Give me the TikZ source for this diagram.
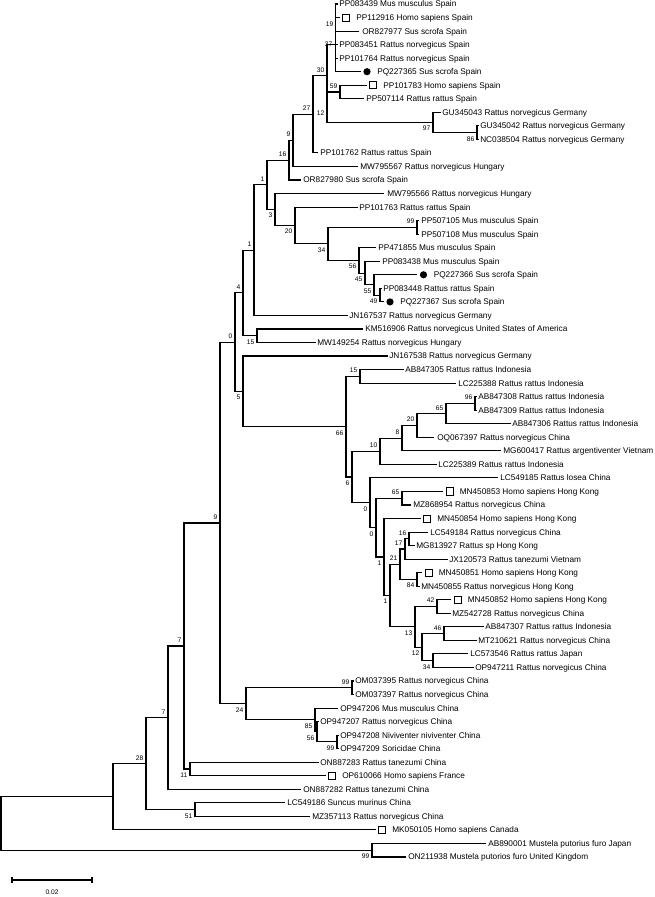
\documentclass[tikz,border=0pt]{standalone}
\usepackage{fontspec}
\setmainfont{Liberation Sans}
\usetikzlibrary{calc}
\newcommand\bsup[2]{\node[bs,anchor=east] (b#1) at ($(#1)+(-2.5,-6)$) {#2};}
\newcommand\bsdn[2]{\node[bs,anchor=east] (b#1) at ($(#1)+(-2.5,6)$) {#2};}
\begin{document}
\begin{tikzpicture}[x=0.75pt,y=-0.75pt,
  br/.style={line width=0.8pt,line cap=rect},
  lf/.style={font=\fontsize{6.2pt}{7pt}\selectfont,anchor=west,inner sep=0pt,text height=4.45pt,text depth=0pt},
  bs/.style={font=\fontsize{5pt}{6pt}\selectfont,inner sep=0pt,text height=3.6pt,text depth=0pt},
  hbox/.style={draw,line width=0.55pt,minimum size=5.4pt,inner sep=0pt},
  hdot/.style={circle,fill=black,minimum size=5.4pt,inner sep=0pt}]
\useasboundingbox (0,0) rectangle (655,897);
% ---------- internal nodes ----------
\coordinate (n19) at (335.5,17.55);
\coordinate (n37) at (335.5,44.6);
\coordinate (n59) at (340,92.0);
\coordinate (n86) at (477,132.65);
\coordinate (n97) at (433,122.5);
\coordinate (n12) at (327,107.25);
\coordinate (n30) at (327,75.9);
\coordinate (n27) at (313,114.4);
\coordinate (n9) at (293,140.45);
\coordinate (n16) at (289,160.2);
\coordinate (n49) at (380,295.1);
\coordinate (n55) at (374,284.95);
\coordinate (n45) at (365,273.1);
\coordinate (n56) at (359,260.4);
\coordinate (n99a) at (417,227.4);
\coordinate (n34) at (328,243.9);
\coordinate (n20) at (295,225.5);
\coordinate (n3) at (275,209.55);
\coordinate (n1a) at (267,184.9);
\coordinate (nX) at (254,250.15);
\coordinate (n15a) at (257,335.75);
\coordinate (nN) at (243,292.95);
\coordinate (n96) at (475,403.45);
\coordinate (n65a) at (446,413.6);
\coordinate (n20b) at (417,425.45);
\coordinate (n8) at (402,438.1);
\coordinate (n10) at (380,451.25);
\coordinate (n65b) at (402,498.2);
\coordinate (n16b) at (409,538.85);
\coordinate (n17) at (405,549.0);
\coordinate (n84) at (417,579.45);
\coordinate (n21) at (400,564.2);
\coordinate (n42) at (437,606.55);
\coordinate (n46) at (444,633.6);
\coordinate (n34b) at (433,660.7);
\coordinate (n12b) at (422,647.15);
\coordinate (n13) at (415,626.85);
\coordinate (nF) at (390,595.5);
\coordinate (nE) at (384,557.0);
\coordinate (n0c) at (376,527.6);
\coordinate (n0b) at (370,502.75);
\coordinate (n6) at (352,477.0);
\coordinate (n15b) at (360,376.35);
\coordinate (n66) at (346,426.7);
\coordinate (n5) at (243,391.35);
\coordinate (n0) at (235,342.15);
\coordinate (n99b) at (352,687.75);
\coordinate (n99c) at (337,741.95);
\coordinate (nW) at (317,731.8);
\coordinate (nZ) at (315,719.95);
\coordinate (n24) at (246,703.85);
\coordinate (n9b) at (220,523.0);
\coordinate (n11) at (190,769.0);
\coordinate (n7u) at (184,646.0);
\coordinate (n7l) at (168,717.65);
\coordinate (n51) at (195,809.65);
\coordinate (n28) at (146,763.65);
\coordinate (nR) at (113,796.8);
\coordinate (nM) at (372,850.25);
\coordinate (root) at (1,823.5);
% ---------- leaf tips ----------
\coordinate (L1) at (337,4.0);
\coordinate (L2) at (339,17.5);
\coordinate (L3) at (358,31.1);
\coordinate (L4) at (337,44.6);
\coordinate (L5) at (337,58.2);
\coordinate (L6) at (360,71.7);
\coordinate (L7) at (366,85.2);
\coordinate (L8) at (363,98.8);
\coordinate (L9) at (440,112.3);
\coordinate (L10) at (478,125.9);
\coordinate (L11) at (478,139.4);
\coordinate (L12) at (317,152.9);
\coordinate (L13) at (357,166.5);
\coordinate (L14) at (300,180.0);
\coordinate (L15) at (383,193.6);
\coordinate (L16) at (357,207.1);
\coordinate (L17) at (418,220.6);
\coordinate (L18) at (418,234.2);
\coordinate (L19) at (375,247.7);
\coordinate (L20) at (379,261.3);
\coordinate (L21) at (416.5,274.8);
\coordinate (L22) at (381,288.3);
\coordinate (L23) at (383,301.9);
\coordinate (L24) at (347,315.4);
\coordinate (L25) at (362,329.0);
\coordinate (L26) at (315,342.5);
\coordinate (L27) at (387,356.0);
\coordinate (L28) at (403,369.6);
\coordinate (L29) at (455,383.1);
\coordinate (L30) at (476,396.7);
\coordinate (L31) at (476,410.2);
\coordinate (L32) at (510,423.7);
\coordinate (L33) at (433,437.3);
\coordinate (L34) at (500,450.8);
\coordinate (L35) at (436,464.4);
\coordinate (L36) at (497,477.9);
\coordinate (L37) at (442.5,491.4);
\coordinate (L38) at (410,505.0);
\coordinate (L39) at (420,518.5);
\coordinate (L40) at (427,532.1);
\coordinate (L41) at (414,545.6);
\coordinate (L42) at (447,559.1);
\coordinate (L43) at (421.5,572.7);
\coordinate (L44) at (419,586.2);
\coordinate (L45) at (450.5,599.8);
\coordinate (L46) at (450,613.3);
\coordinate (L47) at (483,626.8);
\coordinate (L48) at (476,640.4);
\coordinate (L49) at (467,653.9);
\coordinate (L50) at (473,667.5);
\coordinate (L51) at (353,681.0);
\coordinate (L52) at (353,694.5);
\coordinate (L53) at (337,708.1);
\coordinate (L54) at (318,721.6);
\coordinate (L55) at (338,735.2);
\coordinate (L56) at (338,748.7);
\coordinate (L57) at (318,762.2);
\coordinate (L58) at (325,775.8);
\coordinate (L59) at (300,789.3);
\coordinate (L60) at (284,802.9);
\coordinate (L61) at (309,816.4);
\coordinate (L62) at (375,829.9);
\coordinate (L63) at (485,843.5);
\coordinate (L64) at (405,857.0);
% ---------- branches ----------
\draw[br] (root) |- (nR); \draw[br] (root) |- (nM);
\draw[br] (nR) |- (n28); \draw[br] (nR) |- (L62);
\draw[br] (n28) |- (n7l); \draw[br] (n28) |- (n51);
\draw[br] (n7l) |- (n7u); \draw[br] (n7l) |- (L59);
\draw[br] (n7u) |- (n9b); \draw[br] (n7u) |- (n11);
\draw[br] (n9b) |- (n0); \draw[br] (n9b) |- (n24);
\draw[br] (n0) |- (nN); \draw[br] (n0) |- (n5);
\draw[br] (nN) |- (nX); \draw[br] (nN) |- (n15a);
\draw[br] (nX) |- (n1a); \draw[br] (nX) |- (L24);
\draw[br] (n1a) |- (n16); \draw[br] (n1a) |- (n3);
\draw[br] (n16) |- (n9); \draw[br] (n16) |- (L14);
\draw[br] (n9) |- (n27); \draw[br] (n9) |- (L13);
\draw[br] (n27) |- (n30); \draw[br] (n27) |- (L12);
\draw[br] (n30) |- (n37); \draw[br] (n30) |- (n12);
\draw[br] (n37) |- (n19); \draw[br] (n37) |- (L4); \draw[br] (n37) |- (L5); \draw[br] (n37) |- (L6);
\draw[br] (n19) |- (L1); \draw[br] (n19) |- (L2); \draw[br] (n19) |- (L3);
\draw[br] (n12) |- (n59); \draw[br] (n12) |- (n97);
\draw[br] (n59) |- (L7); \draw[br] (n59) |- (L8);
\draw[br] (n97) |- (L9); \draw[br] (n97) |- (n86);
\draw[br] (n86) |- (L10); \draw[br] (n86) |- (L11);
\draw[br] (n3) |- (L15); \draw[br] (n3) |- (n20);
\draw[br] (n20) |- (L16); \draw[br] (n20) |- (n34);
\draw[br] (n34) |- (n99a); \draw[br] (n34) |- (n56);
\draw[br] (n99a) |- (L17); \draw[br] (n99a) |- (L18);
\draw[br] (n56) |- (L19); \draw[br] (n56) |- (n45);
\draw[br] (n45) |- (L20); \draw[br] (n45) |- (n55);
\draw[br] (n55) |- (L21); \draw[br] (n55) |- (n49);
\draw[br] (n49) |- (L22); \draw[br] (n49) |- (L23);
\draw[br] (n15a) |- (L25); \draw[br] (n15a) |- (L26);
\draw[br] (n5) |- (L27); \draw[br] (n5) |- (n66);
\draw[br] (n66) |- (n15b); \draw[br] (n66) |- (n6);
\draw[br] (n15b) |- (L28); \draw[br] (n15b) |- (L29);
\draw[br] (n6) |- (n10); \draw[br] (n6) |- (n0b);
\draw[br] (n10) |- (n8); \draw[br] (n10) |- (L35);
\draw[br] (n8) |- (n20b); \draw[br] (n8) |- (L34);
\draw[br] (n20b) |- (n65a); \draw[br] (n20b) |- (L33);
\draw[br] (n65a) |- (n96); \draw[br] (n65a) |- (L32);
\draw[br] (n96) |- (L30); \draw[br] (n96) |- (L31);
\draw[br] (n0b) |- (L36); \draw[br] (n0b) |- (n0c);
\draw[br] (n0c) |- (n65b); \draw[br] (n0c) |- (nE);
\draw[br] (n65b) |- (L37); \draw[br] (n65b) |- (L38);
\draw[br] (nE) |- (L39); \draw[br] (nE) |- (nF);
\draw[br] (nF) |- (n21); \draw[br] (nF) |- (n13);
\draw[br] (n21) |- (n17); \draw[br] (n21) |- (n84);
\draw[br] (n17) |- (n16b); \draw[br] (n17) |- (L42);
\draw[br] (n16b) |- (L40); \draw[br] (n16b) |- (L41);
\draw[br] (n84) |- (L43); \draw[br] (n84) |- (L44);
\draw[br] (n13) |- (n42); \draw[br] (n13) |- (n12b);
\draw[br] (n42) |- (L45); \draw[br] (n42) |- (L46);
\draw[br] (n12b) |- (n46); \draw[br] (n12b) |- (n34b);
\draw[br] (n46) |- (L47); \draw[br] (n46) |- (L48);
\draw[br] (n34b) |- (L49); \draw[br] (n34b) |- (L50);
\draw[br] (n24) |- (n99b); \draw[br] (n24) |- (nZ);
\draw[br] (n99b) |- (L51); \draw[br] (n99b) |- (L52);
\draw[br] (nZ) |- (L53); \draw[br] (nZ) |- (nW);
\draw[br] (nW) |- (L54); \draw[br] (nW) |- (n99c);
\draw[br] (n99c) |- (L55); \draw[br] (n99c) |- (L56);
\draw[br] (n11) |- (L57); \draw[br] (n11) |- (L58);
\draw[br] (n51) |- (L60); \draw[br] (n51) |- (L61);
\draw[br] (nM) |- (L63); \draw[br] (nM) |- (L64);
% ---------- markers ----------
\node[hbox] (M2) at (346,17.5) {};
\node[hdot] (M6) at (367,71.7) {};
\node[hbox] (M7) at (373,85.2) {};
\node[hdot] (M21) at (423.5,274.8) {};
\node[hdot] (M23) at (390,301.9) {};
\node[hbox] (M37) at (449.5,491.4) {};
\node[hbox] (M39) at (427,518.5) {};
\node[hbox] (M43) at (428.5,572.7) {};
\node[hbox] (M45) at (457.5,599.8) {};
\node[hbox] (M58) at (332,775.8) {};
\node[hbox] (M62) at (382,829.9) {};
% ---------- leaf labels ----------
\node[lf] (T1) at (339,4.0) {PP083439 Mus musculus Spain};
\node[lf] (T2) at (356,17.5) {PP112916 Homo sapiens Spain};
\node[lf] (T3) at (362,31.1) {OR827977 Sus scrofa Spain};
\node[lf] (T4) at (339,44.6) {PP083451 Rattus norvegicus Spain};
\node[lf] (T5) at (339,58.2) {PP101764 Rattus norvegicus Spain};
\node[lf] (T6) at (377,71.7) {PQ227365 Sus scrofa Spain};
\node[lf] (T7) at (383,85.2) {PP101783 Homo sapiens Spain};
\node[lf] (T8) at (366,98.8) {PP507114 Rattus rattus Spain};
\node[lf] (T9) at (442,112.3) {GU345043 Rattus norvegicus Germany};
\node[lf] (T10) at (480,125.9) {GU345042 Rattus norvegicus Germany};
\node[lf] (T11) at (480,139.4) {NC038504 Rattus norvegicus Germany};
\node[lf] (T12) at (320,152.9) {PP101762 Rattus rattus Spain};
\node[lf] (T13) at (360,166.5) {MW795567 Rattus norvegicus Hungary};
\node[lf] (T14) at (303,180.0) {OR827980 Sus scrofa Spain};
\node[lf] (T15) at (387,193.6) {MW795566 Rattus norvegicus Hungary};
\node[lf] (T16) at (359,207.1) {PP101763 Rattus rattus Spain};
\node[lf] (T17) at (421,220.6) {PP507105 Mus musculus Spain};
\node[lf] (T18) at (421,234.2) {PP507108 Mus musculus Spain};
\node[lf] (T19) at (378,247.7) {PP471855 Mus musculus Spain};
\node[lf] (T20) at (382,261.3) {PP083438 Mus musculus Spain};
\node[lf] (T21) at (433.5,274.8) {PQ227366 Sus scrofa Spain};
\node[lf] (T22) at (383,288.3) {PP083448 Rattus rattus Spain};
\node[lf] (T23) at (400,301.9) {PQ227367 Sus scrofa Spain};
\node[lf] (T24) at (349,315.4) {JN167537 Rattus norvegicus Germany};
\node[lf] (T25) at (365,329.0) {KM516906 Rattus norvegicus United States of America};
\node[lf] (T26) at (317,342.5) {MW149254 Rattus norvegicus Hungary};
\node[lf] (T27) at (389,356.0) {JN167538 Rattus norvegicus Germany};
\node[lf] (T28) at (405,369.6) {AB847305 Rattus rattus Indonesia};
\node[lf] (T29) at (458,383.1) {LC225388 Rattus rattus Indonesia};
\node[lf] (T30) at (478,396.7) {AB847308 Rattus rattus Indonesia};
\node[lf] (T31) at (478,410.2) {AB847309 Rattus rattus Indonesia};
\node[lf] (T32) at (512,423.7) {AB847306 Rattus rattus Indonesia};
\node[lf] (T33) at (437,437.3) {OQ067397 Rattus norvegicus China};
\node[lf] (T34) at (503,450.8) {MG600417 Rattus argentiventer Vietnam};
\node[lf] (T35) at (438,464.4) {LC225389 Rattus rattus Indonesia};
\node[lf] (T36) at (500,477.9) {LC549185 Rattus losea China};
\node[lf] (T37) at (459.5,491.4) {MN450853 Homo sapiens Hong Kong};
\node[lf] (T38) at (413,505.0) {MZ868954 Rattus norvegicus China};
\node[lf] (T39) at (437,518.5) {MN450854 Homo sapiens Hong Kong};
\node[lf] (T40) at (430,532.1) {LC549184 Rattus norvegicus China};
\node[lf] (T41) at (416,545.6) {MG813927 Rattus sp Hong Kong};
\node[lf] (T42) at (449,559.1) {JX120573 Rattus tanezumi Vietnam};
\node[lf] (T43) at (438.5,572.7) {MN450851 Homo sapiens Hong Kong};
\node[lf] (T44) at (421,586.2) {MN450855 Rattus norvegicus Hong Kong};
\node[lf] (T45) at (467.5,599.8) {MN450852 Homo sapiens Hong Kong};
\node[lf] (T46) at (452,613.3) {MZ542728 Rattus norvegicus China};
\node[lf] (T47) at (485,626.8) {AB847307 Rattus rattus Indonesia};
\node[lf] (T48) at (478,640.4) {MT210621 Rattus norvegicus China};
\node[lf] (T49) at (470,653.9) {LC573546 Rattus rattus Japan};
\node[lf] (T50) at (475,667.5) {OP947211 Rattus norvegicus China};
\node[lf] (T51) at (355,681.0) {OM037395 Rattus norvegicus China};
\node[lf] (T52) at (355,694.5) {OM037397 Rattus norvegicus China};
\node[lf] (T53) at (340,708.1) {OP947206 Mus musculus China};
\node[lf] (T54) at (320,721.6) {OP947207 Rattus norvegicus China};
\node[lf] (T55) at (340,735.2) {OP947208 Niviventer niviventer China};
\node[lf] (T56) at (340,748.7) {OP947209 Soricidae China};
\node[lf] (T57) at (320,762.2) {ON887283 Rattus tanezumi China};
\node[lf] (T58) at (342,775.8) {OP610066 Homo sapiens France};
\node[lf] (T59) at (303,789.3) {ON887282 Rattus tanezumi China};
\node[lf] (T60) at (287,802.9) {LC549186 Suncus murinus China};
\node[lf] (T61) at (312,816.4) {MZ357113 Rattus norvegicus China};
\node[lf] (T62) at (392,829.9) {MK050105 Homo sapiens Canada};
\node[lf] (T63) at (488,843.5) {AB890001 Mustela putorius furo Japan};
\node[lf] (T64) at (408,857.0) {ON211938 Mustela putorios furo United Kingdom};
% ---------- bootstrap values ----------
\node[bs,anchor=east] (bn19) at (333.5,24.5) {19};
\node[bs,anchor=east] (bn37) at (332.5,44) {37};
\bsup{n30}{30} \bsup{n59}{59} \bsdn{n12}{12} \bsdn{n97}{97} \bsdn{n86}{86}
\bsup{n27}{27} \bsup{n9}{9} \bsup{n16}{16} \bsup{n1a}{1} \bsdn{n3}{3}
\bsdn{n20}{20} \bsdn{n34}{34} \bsup{n99a}{99} \bsdn{n56}{56} \bsdn{n45}{45}
\bsdn{n55}{55} \bsdn{n49}{49} \bsup{nX}{1} \bsup{nN}{4} \bsdn{n15a}{15}
\bsup{n0}{0} \bsdn{n5}{5} \bsdn{n66}{66} \bsup{n15b}{15} \bsdn{n6}{6}
\bsup{n10}{10} \bsup{n8}{8} \bsup{n20b}{20} \bsup{n65a}{65} \bsup{n96}{96}
\bsdn{n0b}{0} \bsdn{n0c}{0} \bsup{n65b}{65} \bsdn{nE}{1} \bsdn{nF}{1}
\bsup{n21}{21} \bsup{n17}{17} \bsup{n16b}{16} \bsdn{n84}{84} \bsdn{n13}{13}
\bsup{n42}{42} \bsdn{n12b}{12} \bsup{n46}{46} \bsdn{n34b}{34}
\bsup{n9b}{9} \bsdn{n24}{24} \bsup{n99b}{99} \bsdn{nZ}{85} \bsdn{nW}{56} \bsdn{n99c}{99}
\bsup{n7u}{7} \bsup{n7l}{7} \bsdn{n11}{11} \bsup{n28}{28} \bsdn{n51}{51} \bsdn{nM}{99}
% ---------- scale bar ----------
\coordinate (sb1) at (12,880);
\coordinate (sb2) at (92,880);
\draw[br] (sb1) -- (sb2);
\draw[br] ($(sb1)+(0,-2.5)$) -- ($(sb1)+(0,2.5)$);
\draw[br] ($(sb2)+(0,-2.5)$) -- ($(sb2)+(0,2.5)$);
\node[bs] (sbl) at (52,892) {0.02};
\end{tikzpicture}
\end{document}
